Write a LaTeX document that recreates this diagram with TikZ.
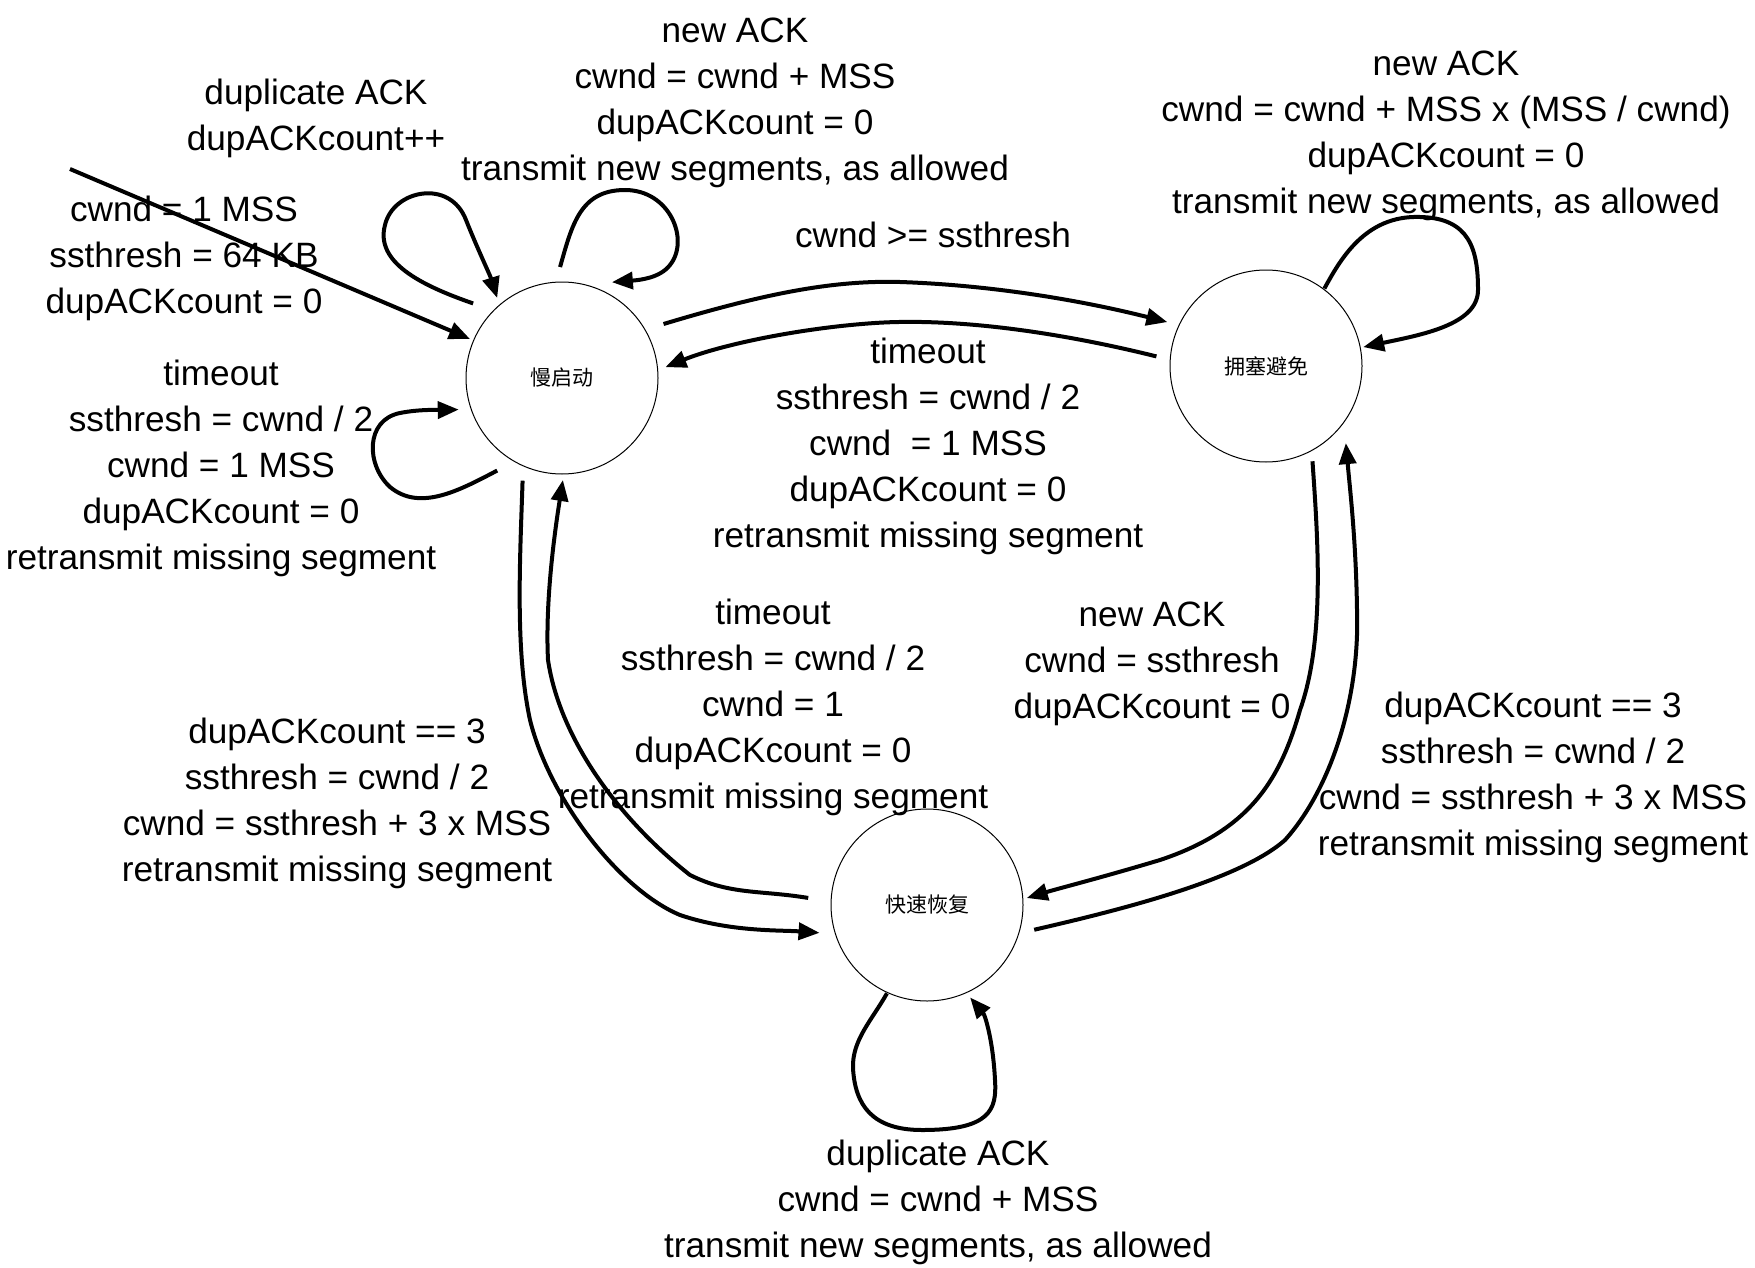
\documentclass[tikz,border=0pt]{standalone}
\usepackage{fontspec}
\setmainfont{Liberation Sans}
\newfontfamily\cjk{Noto Sans CJK SC}
\usetikzlibrary{calc,arrows.meta}
\begin{document}
\begin{tikzpicture}[x=0.5pt,y=-0.5pt,
  state/.style={circle,draw,line width=0.5pt,minimum size=96pt,inner sep=0pt,font=\cjk\fontsize{10.5}{12}\selectfont},
  lbl/.style={align=center,inner sep=0pt,font=\fontsize{17.6}{23}\selectfont},
  arr/.style={line width=2pt,-{Triangle[length=10.5pt,width=8.5pt]}},
  plain/.style={line width=2pt}]
\useasboundingbox (0,0) rectangle (1755,1268);
% states
\node[state] (ss) at (562,378) {慢启动};
\node[state] (ca) at (1266,366) {拥塞避免};
\node[state] (fr) at (927,905) {快速恢复};
% labels
\node[lbl] (l1) at (316,118) {duplicate ACK\\dupACKcount++};
\node[lbl] (l2) at (735,103) {new ACK\\cwnd = cwnd + MSS\\dupACKcount = 0\\transmit new segments, as allowed};
\node[lbl] (l3) at (184,258) {cwnd = 1 MSS\\ssthresh = 64 KB\\dupACKcount = 0};
\node[lbl] (l4) at (221,468) {timeout\\ssthresh = cwnd / 2\\cwnd = 1 MSS\\dupACKcount = 0\\retransmit missing segment};
\node[lbl] (l5) at (933,235) {cwnd >= ssthresh};
\node[lbl] (l6) at (928,446) {timeout\\ssthresh = cwnd / 2\\cwnd \ = 1 MSS\\dupACKcount = 0\\retransmit missing segment};
\node[lbl] (l7) at (773,707) {timeout\\ssthresh = cwnd / 2\\cwnd = 1\\dupACKcount = 0\\retransmit missing segment};
\node[lbl] (l8) at (1152,664) {new ACK\\cwnd = ssthresh\\dupACKcount = 0};
\node[lbl] (l9) at (337,803) {dupACKcount == 3\\ssthresh = cwnd / 2\\cwnd = ssthresh + 3 x MSS\\retransmit missing segment};
\node[lbl] (l10) at (1533,777) {dupACKcount == 3\\ssthresh = cwnd / 2\\cwnd = ssthresh + 3 x MSS\\retransmit missing segment};
\node[lbl] (l11) at (938,1202) {duplicate ACK\\cwnd = cwnd + MSS\\transmit new segments, as allowed};
\node[lbl] (l12) at (1446,136) {new ACK\\cwnd = cwnd + MSS x (MSS / cwnd)\\dupACKcount = 0\\transmit new segments, as allowed};
% initial arrow
\coordinate (init) at (70,169);
\draw[arr] (init) -- ($(ss)+(157:50pt)$);
% slow start: duplicate ACK loop
\draw[arr] ($(ss)+(140:58pt)$) .. controls (420,285) and (375,262) .. (385,225)
  .. controls (393,190) and (450,178) .. (466,220)
  .. controls (478,250) and (490,275) .. ($(ss)+(129:51.5pt)$);
% slow start: new ACK loop
\draw[arr] ($(ss)+(91:55.5pt)$) .. controls (572,225) and (580,190) .. (625,190)
  .. controls (670,190) and (690,240) .. (670,265)
  .. controls (660,278) and (640,280) .. ($(ss)+(62.5:54pt)$);
% slow start: timeout loop
\draw[arr] ($(ss)+(235:56.5pt)$) .. controls (460,490) and (420,512) .. (390,487)
  .. controls (366,465) and (365,420) .. (400,413)
  .. controls (420,409) and (440,410) .. ($(ss)+(197:54pt)$);
% ss -> ca
\draw[arr] ($(ss)+(28:57.5pt)$) .. controls (760,295) and (830,280) .. (900,282)
  .. controls (990,285) and (1080,300) .. ($(ca)+(156:54pt)$);
% ca -> ss
\draw[arr] ($(ca)+(175:55pt)$) .. controls (1050,330) and (950,318) .. (875,323)
  .. controls (800,328) and (720,345) .. ($(ss)+(6:52pt)$);
% ss -> fr
\draw[arr] ($(ss)+(249:55pt)$) .. controls (520,560) and (515,650) .. (530,720)
  .. controls (550,800) and (620,890) .. (680,915)
  .. controls (730,932) and (780,930) .. ($(fr)+(194.5:55.5pt)$);
% fr -> ss
\draw[arr] ($(fr)+(176.6:59.5pt)$) .. controls (760,890) and (730,895) .. (690,875)
  .. controls (620,820) and (560,740) .. (548,660)
  .. controls (545,600) and (555,530) .. ($(ss)+(270.5:51pt)$);
% ca -> fr
\draw[arr] ($(ca)+(296:53pt)$) .. controls (1318,540) and (1325,640) .. (1300,710)
  .. controls (1280,780) and (1250,830) .. (1160,860)
  .. controls (1100,878) and (1060,888) .. ($(fr)+(4:50pt)$);
% fr -> ca
\draw[arr] ($(fr)+(347:55pt)$) .. controls (1120,910) and (1240,880) .. (1285,840)
  .. controls (1330,790) and (1360,700) .. (1357,610)
  .. controls (1356,540) and (1350,490) .. ($(ca)+(316:55.5pt)$);
% ca loop
\draw[arr] ($(ca)+(53:48.5pt)$) .. controls (1340,260) and (1365,215) .. (1420,217)
  .. controls (1470,218) and (1478,250) .. (1478,290)
  .. controls (1478,325) and (1420,335) .. ($(ca)+(11:49.5pt)$);
% fr loop
\draw[arr] ($(fr)+(245.6:48.5pt)$) .. controls (872,1020) and (852,1040) .. (853,1068)
  .. controls (855,1105) and (872,1130) .. (922,1130)
  .. controls (990,1130) and (997,1110) .. (995,1080)
  .. controls (993,1040) and (985,1015) .. ($(fr)+(295:51pt)$);
\end{tikzpicture}
\end{document}
